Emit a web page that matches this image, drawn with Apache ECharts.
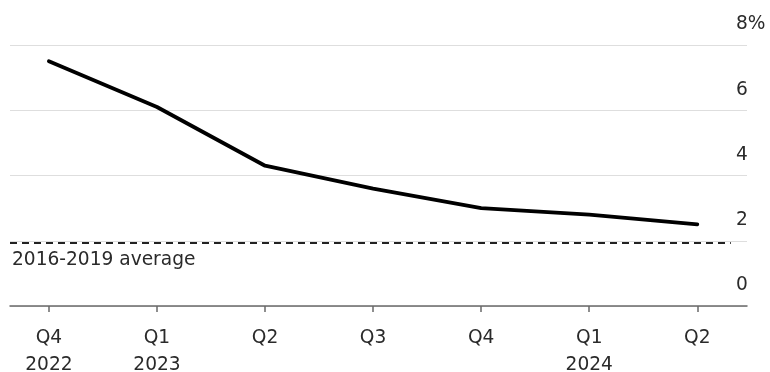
<!DOCTYPE html>
<html>
<head>
<meta charset="utf-8">
<script src="https://cdn.jsdelivr.net/npm/echarts@6/dist/echarts.min.js"></script>
<style>
  html, body { margin: 0; padding: 0; background: #fff; }
  #chart { width: 770px; height: 372px; }
</style>
</head>
<body>
<div id="chart"></div>
<script>
// Quarterly readings, Q4 2022 through Q2 2024 (percent)
const quarters = ['Q4', 'Q1', 'Q2', 'Q3', 'Q4', 'Q1', 'Q2'];
const years = ['2022', '2023', '', '', '', '2024', ''];
const values = [7.5, 6.1, 4.3, 3.6, 3.0, 2.8, 2.5];

// Pre-pandemic reference level
const averageLabel = '2016-2019 average';
const averageValue = 1.93;

// Y-axis ticks
const yTicks = [0, 2, 4, 6, 8];

const positions = quarters.map((_, i) => i);
const seriesData = values.map((v, i) => [i, v]);

const FONT = '"DejaVu Sans", sans-serif';
const FONT_SIZE = 18.6;
const TEXT = '#2a2a2a';

const chart = echarts.init(document.getElementById('chart'), null, { renderer: 'canvas' });

chart.setOption({
  animation: false,
  grid: {
    left: 10, right: 23, top: 45, bottom: 66,
    containLabel: false,
    outerBoundsMode: 'none'
  },
  xAxis: {
    type: 'value',
    min: -0.36,
    max: 6.46,
    splitLine: { show: false },
    axisLine: { show: true, lineStyle: { color: '#6a6a6a', width: 1.5 } },
    axisTick: {
      show: true,
      customValues: positions,
      length: 6,
      lineStyle: { color: '#6a6a6a', width: 1.5 }
    },
    axisLabel: {
      customValues: positions,
      margin: 19,
      color: TEXT,
      fontFamily: FONT,
      fontSize: FONT_SIZE,
      lineHeight: 27,
      align: 'center',
      formatter: (v) => {
        const i = Math.round(v);
        return years[i] ? quarters[i] + '\n' + years[i] : quarters[i];
      }
    }
  },
  yAxis: {
    type: 'value',
    position: 'right',
    min: yTicks[0],
    max: yTicks[yTicks.length - 1],
    interval: 2,
    axisLine: { show: false },
    axisTick: { show: false },
    splitLine: { show: true, lineStyle: { color: '#dedede', width: 1.2 } },
    axisLabel: {
      margin: -11,
      color: TEXT,
      fontFamily: FONT,
      fontSize: FONT_SIZE,
      verticalAlign: 'bottom',
      padding: [0, 0, 11, 0],
      formatter: (v) => (v === yTicks[yTicks.length - 1] ? v + '%' : String(v))
    }
  },
  series: [{
    type: 'line',
    data: seriesData,
    symbol: 'none',
    lineStyle: { color: '#000', width: 3.8, cap: 'round', join: 'round' },
    markLine: {
      silent: true,
      symbol: 'none',
      lineStyle: { color: '#222', width: 2, type: [7, 5] },
      label: {
        show: true,
        position: 'insideStartBottom',
        distance: [2, 8],
        color: TEXT,
        fontFamily: FONT,
        fontSize: FONT_SIZE,
        formatter: averageLabel
      },
      data: [[
        { coord: [-0.36, averageValue] },
        { coord: [6.31, averageValue] }
      ]]
    }
  }]
});
</script>
</body>
</html>
